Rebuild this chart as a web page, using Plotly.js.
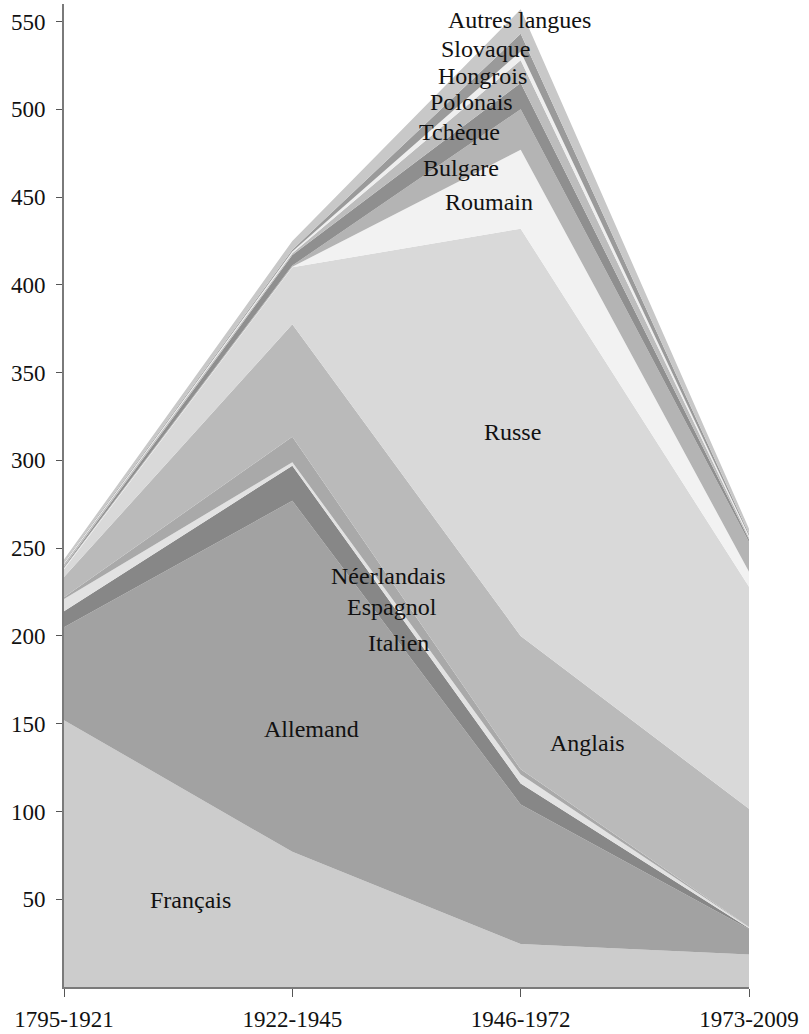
<!DOCTYPE html>
<html>
<head>
<meta charset="utf-8">
<script src="https://cdn.plot.ly/plotly-3.0.1.min.js"></script>
<style>
html,body{margin:0;padding:0;background:#fff;}
#chart{width:809px;height:1034px;}
</style>
</head>
<body>
<div id="chart"></div>
<script>
// Periods (x categories)
const periods = ["1795-1921", "1922-1945", "1946-1972", "1973-2009"];

// Series values (per language, per period) — stacked
const languages = ["Français", "Allemand", "Italien", "Espagnol", "Néerlandais", "Anglais", "Russe",
                   "Roumain", "Bulgare", "Tchèque", "Polonais", "Hongrois", "Slovaque", "Autres langues"];
const francais    = [152, 77, 24.5, 18.5];
const allemand    = [53, 200, 79.5, 14.5];
const italien     = [9, 20, 12, 0.5];
const espagnol    = [7, 2, 5, 0.5];
const neerlandais = [1, 14.5, 3, 0.2];
const anglais     = [11.5, 64, 76, 67.3];
const russe       = [4.5, 32.5, 232, 126.5];
const roumain     = [0.5, 0.3, 45, 8.5];
const bulgare     = [0.5, 0.7, 23, 17];
const tcheque     = [0.5, 6, 15, 1.5];
const polonais    = [1.5, 1, 13, 1];
const hongrois    = [0.5, 1, 5, 1];
const slovaque    = [0.5, 1, 10, 1];
const autres      = [1.5, 5, 14, 3];

const seriesValues = [francais, allemand, italien, espagnol, neerlandais, anglais, russe,
                      roumain, bulgare, tcheque, polonais, hongrois, slovaque, autres];

const yTickVals = [50, 100, 150, 200, 250, 300, 350, 400, 450, 500, 550];

// Styling
const FONT = "Liberation Serif";
const fillColors = ["#cccccc", "#a2a2a2", "#878787", "#e2e2e2", "#a9a9a9", "#bababa", "#d9d9d9",
                    "#f2f2f2", "#b4b4b4", "#8f8f8f", "#bdbdbd", "#efefef", "#9a9a9a", "#c8c8c8"];

// Label positions (x in period-index units, y in value units)
const labelX = [0.556, 1.086, 1.467, 1.437, 1.419, 2.291, 1.966, 1.861, 1.739, 1.730, 1.783, 1.831, 1.844, 1.997];
const labelY = [49.4, 146.9, 195.9, 216.4, 234, 138.9, 316.1, 447.2, 466.5, 487, 504.1, 519, 534.3, 550.9];

const xIdx = periods.map((p, i) => i);

const traces = languages.map((name, k) => ({
  type: "scatter",
  mode: "lines",
  name: name,
  x: xIdx,
  y: seriesValues[k],
  stackgroup: "one",
  line: {width: 0, color: fillColors[k]},
  fillcolor: fillColors[k],
  hoverinfo: "name+y"
}));

const annotations = languages.map((name, k) => ({
  x: labelX[k], y: labelY[k], xref: "x", yref: "y",
  text: name, showarrow: false,
  font: {family: FONT, size: 24, color: "#111"}
}));

const layout = {
  width: 809, height: 1034,
  margin: {l: 64, r: 60, t: 4, b: 47},
  paper_bgcolor: "#ffffff",
  plot_bgcolor: "#ffffff",
  showlegend: false,
  font: {family: FONT, size: 24, color: "#111"},
  xaxis: {
    range: [0, 3],
    tickvals: xIdx,
    ticktext: periods,
    showgrid: false, zeroline: false,
    showline: true, linecolor: "#7a7a7a", linewidth: 2,
    ticks: "outside", ticklen: 8, tickwidth: 1, tickcolor: "#555",
    ticklabelstandoff: 2,
    tickfont: {family: FONT, size: 23, color: "#111"}
  },
  yaxis: {
    range: [0, 560],
    tickvals: yTickVals,
    showgrid: false, zeroline: false,
    showline: true, linecolor: "#7a7a7a", linewidth: 2,
    ticks: "outside", ticklen: 6, tickwidth: 1, tickcolor: "#555",
    ticklabelstandoff: 6,
    tickfont: {family: FONT, size: 23, color: "#111"}
  },
  annotations: annotations
};

Plotly.newPlot("chart", traces, layout, {displayModeBar: false, staticPlot: true});
</script>
</body>
</html>
